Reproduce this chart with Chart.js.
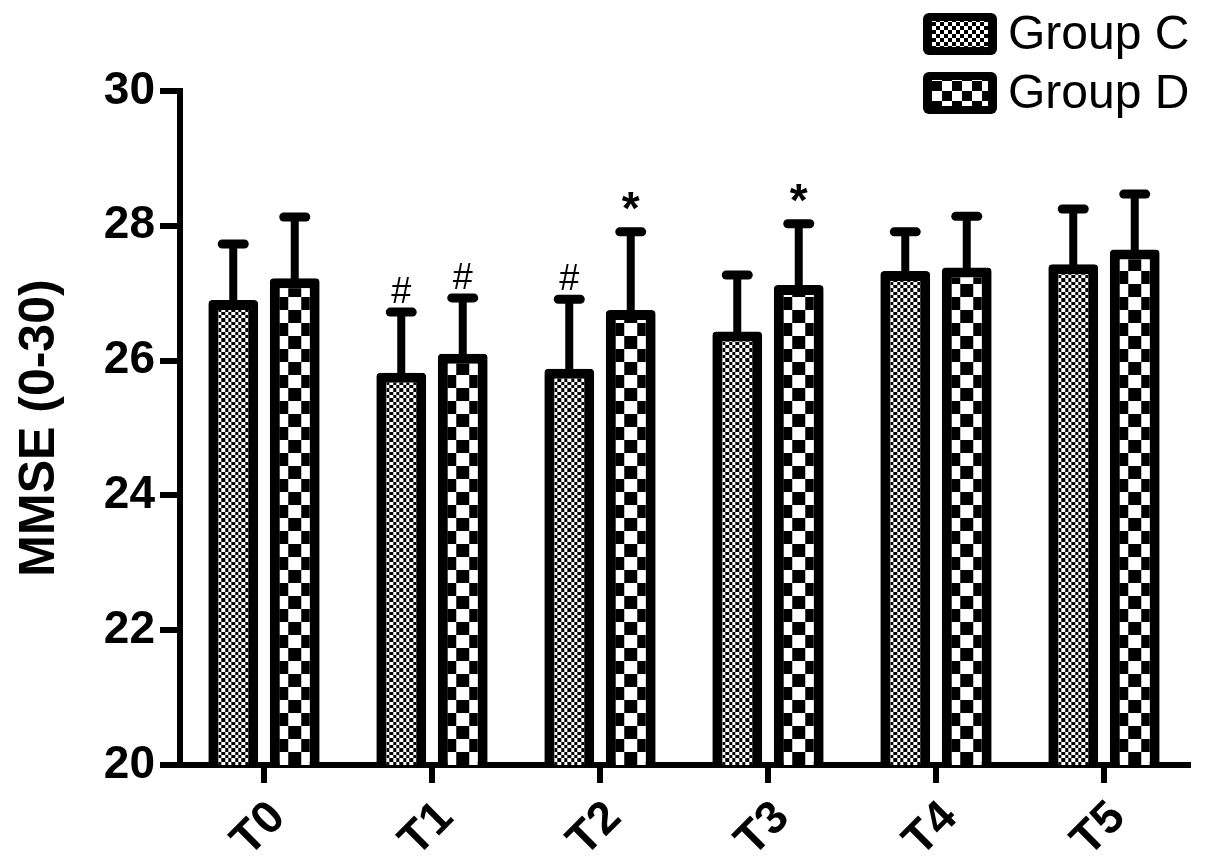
<!DOCTYPE html>
<html>
<head>
<meta charset="utf-8">
<script src="https://cdn.jsdelivr.net/npm/chart.js@4"></script>
<style>
  body { margin: 0; background: #fff; }
  #wrap { width: 1205px; height: 866px; }
</style>
</head>
<body>
<div id="wrap"><canvas id="canvas1"></canvas></div>
<script>
var labels = ["T0", "T1", "T2", "T3", "T4", "T5"];
var groupC = [26.90, 25.82, 25.88, 26.43, 27.33, 27.43];
var groupD = [27.22, 26.10, 26.75, 27.12, 27.38, 27.65];
var sdC = [0.83, 0.90, 1.03, 0.84, 0.58, 0.82];
var sdD = [0.91, 0.83, 1.16, 0.91, 0.76, 0.82];
var marksC = ["", "#", "#", "", "", ""];
var marksD = ["", "#", "*", "*", "", ""];

var FONT = "'Liberation Sans', Arial, Helvetica, sans-serif";

// checkerboard tile, cell edges rounded to whole pixels
function makePattern(cell, n) {
  var size = Math.round(cell * n);
  var c = document.createElement("canvas");
  c.width = size; c.height = size;
  var g = c.getContext("2d");
  g.fillStyle = "#fff";
  g.fillRect(0, 0, size, size);
  g.fillStyle = "#000";
  for (var i = 0; i < n; i++) {
    for (var j = 0; j < n; j++) {
      if ((i + j) % 2 === 0) {
        var x0 = Math.round(i * cell), x1 = Math.round((i + 1) * cell);
        var y0 = Math.round(j * cell), y1 = Math.round((j + 1) * cell);
        g.fillRect(x0, y0, x1 - x0, y1 - y0);
      }
    }
  }
  return g.createPattern(c, "repeat");
}

var cellC = 10 / 3, cellD = 13;
var patC = labels.map(function () { return makePattern(cellC, 6); });
var patD = labels.map(function () { return makePattern(cellD, 2); });
var cells = [cellC, cellD];
var sds = [sdC, sdD];
var marks = [marksC, marksD];

// line the checkers up with each bar's centre
var patternAlign = {
  id: "patternAlign",
  beforeDatasetsDraw: function (chart) {
    var bottom = chart.chartArea.bottom;
    [patC, patD].forEach(function (pats, i) {
      var meta = chart.getDatasetMeta(i);
      meta.data.forEach(function (bar, j) {
        var cell = cells[i];
        pats[j].setTransform(new DOMMatrix([1, 0, 0, 1, bar.x - cell * 1.5, bottom]));
      });
    });
  }
};

var errorBars = {
  id: "errorBars",
  afterDatasetsDraw: function (chart) {
    var ctx = chart.ctx;
    var y = chart.scales.y;
    ctx.save();
    ctx.strokeStyle = "#000";
    ctx.fillStyle = "#000";
    ctx.lineCap = "round";
    chart.data.datasets.forEach(function (ds, i) {
      var meta = chart.getDatasetMeta(i);
      meta.data.forEach(function (bar, j) {
        var top = y.getPixelForValue(ds.data[j] + sds[i][j]);
        ctx.lineWidth = 8;
        ctx.beginPath();
        ctx.moveTo(bar.x, bar.y + 5);
        ctx.lineTo(bar.x, top);
        ctx.stroke();
        ctx.lineWidth = 9;
        ctx.beginPath();
        ctx.moveTo(bar.x - 11, top);
        ctx.lineTo(bar.x + 11, top);
        ctx.stroke();
        var m = marks[i][j];
        if (m === "#") {
          ctx.font = "36px " + FONT;
          ctx.textAlign = "center";
          ctx.textBaseline = "alphabetic";
          ctx.fillText(m, bar.x, top - 9);
        } else if (m === "*") {
          ctx.font = "bold 46px " + FONT;
          ctx.textAlign = "center";
          ctx.textBaseline = "alphabetic";
          ctx.fillText(m, bar.x, top - 8);
        }
      });
    });
    ctx.restore();
  }
};

var legendC = makePattern(4, 2);
var legendD = makePattern(10, 2);

var boxLegend = {
  id: "boxLegend",
  afterDraw: function (chart) {
    var ctx = chart.ctx;
    ctx.save();
    [legendC, legendD].forEach(function (pat, i) {
      var x = 923, yb = 13 + i * 59, w = 74, h = 42;
      ctx.fillStyle = "#000";
      ctx.beginPath();
      ctx.roundRect(x, yb, w, h, 6);
      ctx.fill();
      pat.setTransform(new DOMMatrix([1, 0, 0, 1, x + 9, yb + 9]));
      ctx.fillStyle = pat;
      ctx.fillRect(x + 9, yb + 8, w - 18, h - 16);
      ctx.fillStyle = "#000";
      ctx.font = "48px " + FONT;
      ctx.textAlign = "left";
      ctx.textBaseline = "middle";
      ctx.fillText(chart.data.datasets[i].label, 1008, yb + h / 2 + 2);
    });
    ctx.restore();
  }
};

new Chart(document.getElementById("canvas1"), {
  type: "bar",
  data: {
    labels: labels,
    datasets: [{
      label: "Group C",
      data: groupC,
      backgroundColor: patC,
      borderColor: "#000",
      borderWidth: 10,
      borderRadius: 4,
      borderSkipped: "start"
    }, {
      label: "Group D",
      data: groupD,
      backgroundColor: patD,
      borderColor: "#000",
      borderWidth: 10,
      borderRadius: 4,
      borderSkipped: "start"
    }]
  },
  options: {
    responsive: true,
    maintainAspectRatio: false,
    animation: false,
    layout: { padding: { top: 91, right: 17, left: 0, bottom: 0 } },
    datasets: { bar: { categoryPercentage: 0.732, barPercentage: 0.81 } },
    plugins: {
      legend: { display: false },
      tooltip: { enabled: false }
    },
    scales: {
      x: {
        grid: {
          offset: false,
          drawOnChartArea: false,
          tickLength: 18,
          lineWidth: 6,
          color: "#000"
        },
        border: { width: 6, color: "#000" },
        ticks: {
          color: "#000",
          font: { family: FONT, size: 46, weight: "bold" },
          minRotation: 45,
          maxRotation: 45,
          labelOffset: 14,
          padding: 8
        },
        afterFit: function (s) { s.height = 101; }
      },
      y: {
        min: 20,
        max: 30,
        grid: {
          drawOnChartArea: false,
          tickLength: 20,
          lineWidth: 6,
          color: "#000"
        },
        border: { width: 6, color: "#000" },
        ticks: {
          stepSize: 2,
          color: "#000",
          padding: 5,
          font: { family: FONT, size: 46, weight: "bold" }
        },
        title: {
          display: true,
          text: "MMSE (0-30)",
          color: "#000",
          padding: { top: 10, bottom: 0 },
          font: { family: FONT, size: 50, weight: "bold" }
        },
        afterFit: function (s) { s.width = 180; }
      }
    }
  },
  plugins: [patternAlign, errorBars, boxLegend]
});
</script>
</body>
</html>
